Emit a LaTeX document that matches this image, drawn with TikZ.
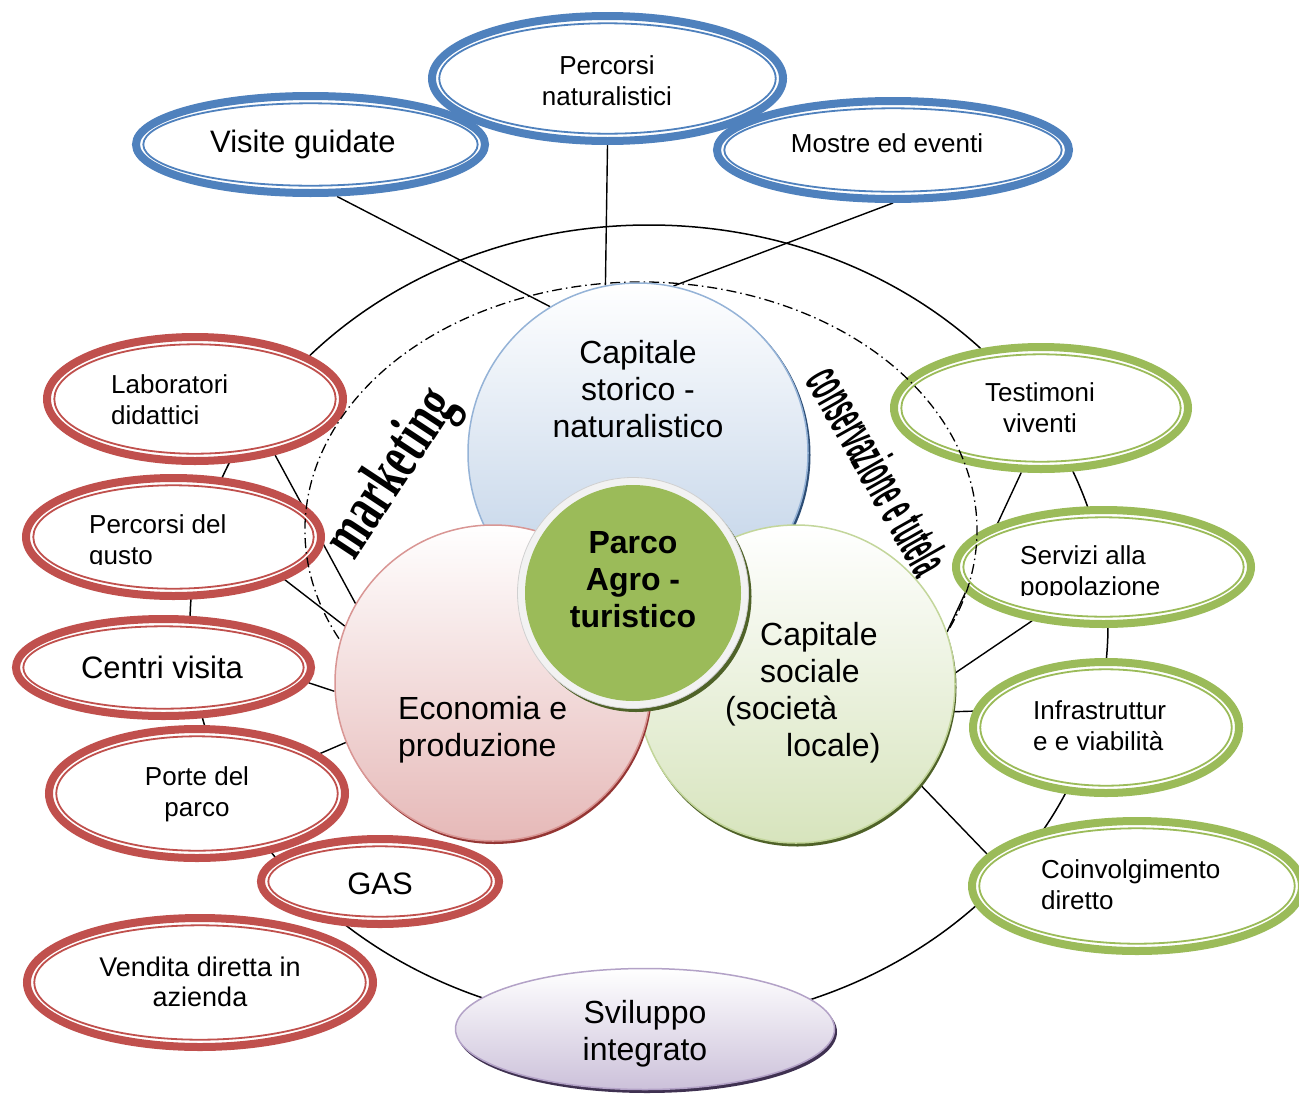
\documentclass[tikz,border=0pt]{standalone}
\usepackage{fontspec}
\setmainfont{Liberation Sans}
\newfontfamily\mkfamily[FakeStretch=0.64]{Liberation Serif}
\newfontfamily\cvfamily[FakeStretch=0.38]{Liberation Sans}
\usetikzlibrary{shapes.geometric,decorations.text}

\definecolor{ovblue}{HTML}{4F81BD}
\definecolor{ovred}{HTML}{C0504D}
\definecolor{ovgreen}{HTML}{9BBB59}
\definecolor{cblueline}{HTML}{95B3D7}
\definecolor{cbluebot}{HTML}{B9CDE5}
\definecolor{cblueshd}{HTML}{2C4D75}
\definecolor{credline}{HTML}{D99694}
\definecolor{credbot}{HTML}{E6B9B8}
\definecolor{credshd}{HTML}{943634}
\definecolor{cgrnline}{HTML}{C3D69B}
\definecolor{cgrnbot}{HTML}{D7E4BD}
\definecolor{cgrnshd}{HTML}{4F6228}
\definecolor{cvioline}{HTML}{B3A2C7}
\definecolor{cviobot}{HTML}{CCC1DA}
\definecolor{cvioshd}{HTML}{3F3151}
\definecolor{parkgreen}{HTML}{9BBB59}
\definecolor{parkrim}{HTML}{F2F2F2}
\definecolor{parkrimline}{HTML}{D0D0D0}

\newcommand\bigtxt{\fontsize{32}{37}\selectfont}
\newcommand\midtxt{\fontsize{31}{36}\selectfont}
\newcommand\smalltxt{\fontsize{26}{31}\selectfont}
\newcommand\mkfont{\mkfamily\bfseries\fontsize{66}{66}\selectfont}
\newcommand\cvfont{\cvfamily\bfseries\fontsize{56}{56}\selectfont}

\pgfdeclarelayer{back}
\pgfsetlayers{back,main}

\tikzset{
  link/.style={draw=black, line width=1.4pt},
  ovaltext/.style={inner sep=0pt, font=\smalltxt, text=black},
  bigcircle/.style={circle, line width=1.5pt, inner sep=0pt},
}

% double-ringed ellipse: name, x, y, outer x radius, outer y radius, colour
\newcommand\dblellipse[6]{%
  \node[ellipse, draw=#6, line width=8pt, fill=white, inner sep=0pt,
        minimum width={2*#4pt-8pt}, minimum height={2*#5pt-8pt}] (#1) at (#2,#3) {};
  \draw[#6, line width=1.8pt] (#1.center) ellipse [x radius={#4-11.3}, y radius={#5-11.3}];
}

\begin{document}
\begin{tikzpicture}[x=1pt, y=-1pt]
\useasboundingbox (0,0) rectangle (1299,1095);

% top (blue) ellipses
\dblellipse{vis}{310.5}{144.5}{178.5}{52.5}{ovblue}
\dblellipse{pn}{607.5}{78.5}{179.5}{66.5}{ovblue}
\dblellipse{me}{893}{150}{180}{53}{ovblue}
% left (red) ellipses
\dblellipse{lab}{195}{399}{152}{66}{ovred}
\dblellipse{pg}{173.5}{537}{151.5}{63}{ovred}
\dblellipse{cv}{163.5}{667.5}{151.5}{52.5}{ovred}
\dblellipse{pp}{197}{793.5}{152}{68.5}{ovred}
\dblellipse{gas}{380}{881.5}{123}{46.5}{ovred}
\dblellipse{vd}{200}{982.5}{177}{68.5}{ovred}
% right (green) ellipses
\dblellipse{tv}{1041}{408}{151}{65}{ovgreen}
\dblellipse{sp}{1103.5}{567}{151.5}{61}{ovgreen}
\dblellipse{iv}{1106}{727.5}{137}{69.5}{ovgreen}
\dblellipse{cd}{1137}{886}{169}{69}{ovgreen}

% bottom ellipse
\fill[cvioshd] (647,1032) ellipse [x radius=190, y radius=61];
\node[ellipse, draw=cvioline, line width=1.5pt, top color=white, bottom color=cviobot,
      minimum width=379pt, minimum height=121pt, inner sep=0pt] (sv) at (645,1029) {};

% dash-dotted arc around the three capitals
\draw[line width=1.3pt, dash pattern=on 10pt off 4pt on 1.5pt off 4pt]
  (641,530) ++(154:336 and 248) arc[start angle=154, end angle=384, x radius=336, y radius=248];

% the three capitals
\fill[cblueshd] (640.5,455) circle [radius=170];
\node[bigcircle, draw=cblueline, top color=white, bottom color=cbluebot, minimum size=340pt] (cs) at (638,453) {};
\fill[cgrnshd] (797.5,687.5) circle [radius=159];
\node[bigcircle, draw=cgrnline, top color=white, bottom color=cgrnbot, minimum size=318pt] (sc) at (796,684) {};
\fill[credshd] (494.5,686) circle [radius=158];
\node[bigcircle, draw=credline, top color=white, bottom color=credbot, minimum size=316pt] (ep) at (493,683) {};

% central disc
\fill[cgrnshd] (636,596.5) circle [radius=115.5];
\node[circle, draw=parkrimline, line width=0.8pt, fill=parkrim, minimum size=231pt, inner sep=0pt] (pa) at (633,593) {};
\fill[parkgreen] (pa.center) circle [radius=108];

% texts of the circles
\node[font=\bigtxt, align=center, inner sep=0pt] (cstext) at (638,389) {Capitale\\storico -\\naturalistico};
\node[font=\bigtxt, align=left, anchor=west, inner sep=0pt] (eptext) at (398,729.5) {Economia e\\produzione};
\node[font=\bigtxt, align=left, anchor=west, inner sep=0pt] (sctext) at (725,693)
  {\hspace*{35pt}Capitale\\\hspace*{35pt}sociale\\(società\\\hspace*{61pt}locale)};
\node[font=\bigtxt\bfseries, align=center, inner sep=0pt] (patext) at (633,580) {Parco\\Agro -\\turistico};
\node[font=\bigtxt, align=center, inner sep=0pt] (svtext) at (645,1034) {Sviluppo\\integrato};

% texts of the ellipses
\node[ovaltext, font=\midtxt] (vistext) at (303,144) {Visite guidate};
\node[ovaltext, align=center] (pntext) at (607,80.5) {Percorsi\\naturalistici};
\node[ovaltext] (metext) at (887,143) {Mostre ed eventi};
\node[ovaltext, align=left, anchor=west] (labtext) at (111,399.5) {Laboratori\\didattici};
\begin{scope}
  \clip (80,500) rectangle (270,564.5);
  \node[ovaltext, align=left, anchor=west] (pgtext) at (89,542.5) {Percorsi del\\gusto};
\end{scope}
\node[ovaltext, font=\midtxt] (cvtext) at (162,667.5) {Centri visita};
\node[ovaltext, align=center] (pptext) at (197,794.5) {Porte del\\parco};
\node[ovaltext, font=\midtxt] (gastext) at (380,884) {GAS};
\node[ovaltext, align=center, font=\fontsize{27}{30}\selectfont] (vdtext) at (200,982) {Vendita diretta in\\azienda};
\node[ovaltext, align=center] (tvtext) at (1040,408) {Testimoni\\viventi};
\begin{scope}
  \clip (1010,535) rectangle (1200,595);
  \node[ovaltext, align=left, anchor=west] (sptext) at (1020,573.5) {Servizi alla\\popolazione};
\end{scope}
\node[ovaltext, align=left, anchor=west] (ivtext) at (1033,725.5) {Infrastruttur\\e e viabilità};
\node[ovaltext, align=left, anchor=west] (cdtext) at (1041,884.5) {Coinvolgimento\\diretto};

% arched words
\path[decorate, decoration={text along path, text={|\mkfont|marketing}, text align=center}]
  (330,598) -- (482,368);
\path[decorate, decoration={text along path, text={|\cvfont|conservazione e tutela}, text align=center}]
  (786,347) -- (936,613);

% page background, outer ring and connectors, behind everything
\begin{pgfonlayer}{back}
\fill[white] (0,0) rectangle (1299,1095);
\node[ellipse, draw, line width=1.5pt, inner sep=0pt, minimum width=918pt, minimum height=800pt] (ring) at (649,625) {};
\draw[link] (vis.-63) -- (cs.121);
\draw[link] (pn.south) -- (cs.101);
\draw[link] (me.south) -- (cs.78);
\draw[link] (lab.-35) -- (ep.150);
\draw[link] (pg.-21) -- (ep.159);
\draw[link] (cv.-6) -- (ep.183);
\draw[link] (pp.18) -- (ep.202);
\draw[link] (tv.-107) -- (sc.19);
\draw[link] (sp.-143) -- (sc.4);
\draw[link] (iv.173) -- (sc.-10);
\draw[link] (cd.168) -- (sc.-39);
\end{pgfonlayer}
\end{tikzpicture}
\end{document}
